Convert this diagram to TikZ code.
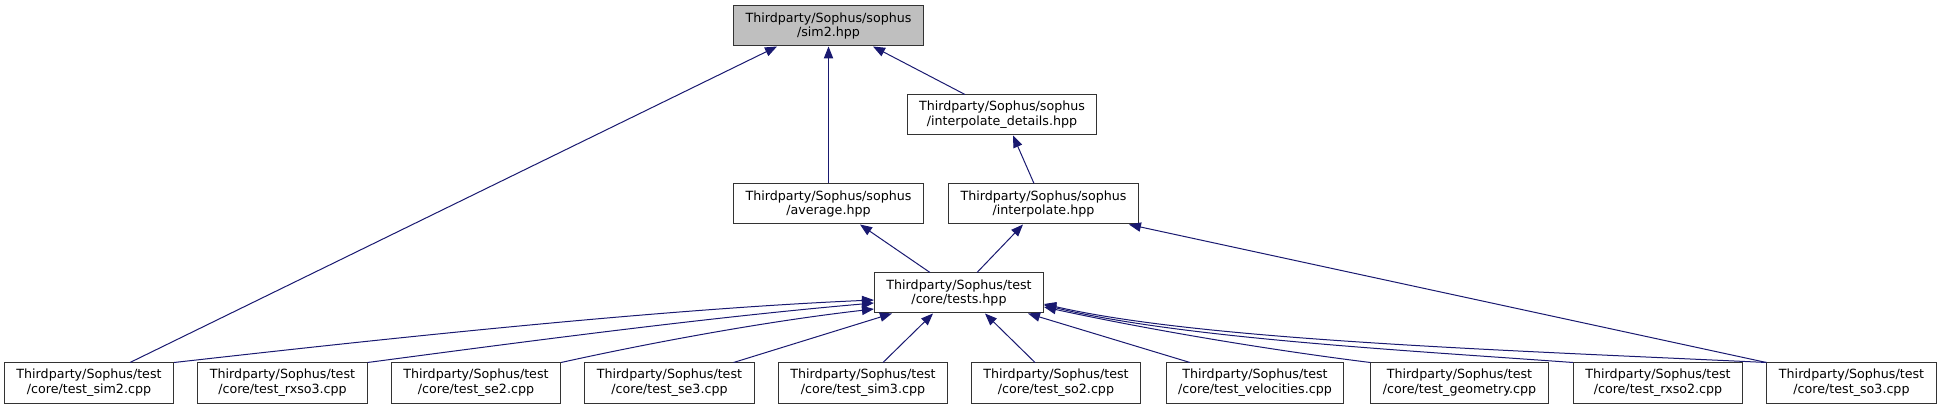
\documentclass[tikz,border=0pt]{standalone}
\usepackage{fontspec}
\setmainfont{DejaVu Sans}
\usepackage{tikz}
\usetikzlibrary{calc, arrows.meta}
\definecolor{edgeblue}{RGB}{25,25,112}
\definecolor{rootgray}{RGB}{191,191,191}

\begin{document}
\begin{tikzpicture}[x=0.75pt, y=-0.75pt,
    filebox/.style={draw=black!80, line width=0.75pt, fill=white, align=center,
        minimum height=30pt, inner xsep=9pt, inner ysep=2pt,
        font=\fontsize{9.5}{11}\selectfont},
    mainbox/.style={filebox, fill=rootgray},
    dep/.style={edgeblue, line width=0.75pt, {Triangle[length=9pt,width=7pt]}-}]
    \useasboundingbox (0,0) rectangle (1941,409);

    % header
    \node[mainbox] (sim2) at (828.5,26) {Thirdparty/Sophus/sophus\\/sim2.hpp};

    % livello intermedio
    \node[filebox] (interpdet) at (1002,115) {Thirdparty/Sophus/sophus\\/interpolate\_details.hpp};
    \node[filebox] (average) at (828.5,204) {Thirdparty/Sophus/sophus\\/average.hpp};
    \node[filebox] (interp) at (1043.5,204) {Thirdparty/Sophus/sophus\\/interpolate.hpp};
    \node[filebox] (tests) at (959,293) {Thirdparty/Sophus/test\\/core/tests.hpp};

    % test
    \node[filebox] (tsim2) at (89,383) {Thirdparty/Sophus/test\\/core/test\_sim2.cpp};
    \node[filebox] (trxso3) at (282.5,383) {Thirdparty/Sophus/test\\/core/test\_rxso3.cpp};
    \node[filebox] (tse2) at (476,383) {Thirdparty/Sophus/test\\/core/test\_se2.cpp};
    \node[filebox] (tse3) at (669.5,383) {Thirdparty/Sophus/test\\/core/test\_se3.cpp};
    \node[filebox] (tsim3) at (863,383) {Thirdparty/Sophus/test\\/core/test\_sim3.cpp};
    \node[filebox] (tso2) at (1056,383) {Thirdparty/Sophus/test\\/core/test\_so2.cpp};
    \node[filebox] (tvel) at (1255,383) {Thirdparty/Sophus/test\\/core/test\_velocities.cpp};
    \node[filebox] (tgeo) at (1459.5,383) {Thirdparty/Sophus/test\\/core/test\_geometry.cpp};
    \node[filebox] (trxso2) at (1658,383) {Thirdparty/Sophus/test\\/core/test\_rxso2.cpp};
    \node[filebox] (tso3) at (1851.5,383) {Thirdparty/Sophus/test\\/core/test\_so3.cpp};

    % archi verso sim2
    \draw[dep] ($(sim2.south)+(-51.5,0)$) -- ($(tsim2.north)+(41,0)$);
    \draw[dep] (sim2.south) -- (average.north);
    \draw[dep] ($(sim2.south)+(44.5,0)$) -- ($(interpdet.north)+(-37,0)$);
    \draw[dep] ($(interpdet.south)+(11,0)$) -- ($(interp.north)+(-9.5,0)$);

    % archi verso average e interpolate
    \draw[dep] ($(average.south)+(31.5,0)$) -- ($(tests.north)+(-29,0)$);
    \draw[dep] ($(interp.south)+(-20.5,0)$) -- ($(tests.north)+(18,0)$);
    \draw[dep] ($(interp.south east)+(-10,0)$) -- (tso3.north west);

    % archi verso tests
    \draw[dep] ($(tests.west)+(0,7)$) .. controls (640,310) and (330,345) .. (tsim2.north east);
    \draw[dep] ($(tests.west)+(0,10)$) .. controls (700,318) and (500,345) .. (trxso3.north east);
    \draw[dep] ($(tests.west)+(0,16)$) .. controls (760,322) and (640,345) .. (tse2.north east);
    \draw[dep] ($(tests.south west)+(18,0)$) -- ($(tse3.north east)+(-21,0)$);
    \draw[dep] ($(tests.south)+(-26,0)$) -- ($(tsim3.north)+(20,0)$);
    \draw[dep] ($(tests.south)+(26,0)$) -- ($(tso2.north)+(-21,0)$);
    \draw[dep] ($(tests.south)+(69,0)$) -- ($(tvel.north)+(-65,0)$);
    \draw[dep] ($(tests.east)+(0,14)$) .. controls (1150,330) and (1270,350) .. (tgeo.north west);
    \draw[dep] ($(tests.east)+(0,12)$) .. controls (1180,338) and (1400,350) .. (trxso2.north west);
    \draw[dep] ($(tests.east)+(0,11)$) .. controls (1200,340) and (1500,350) .. (tso3.north west);
\end{tikzpicture}
\end{document}
